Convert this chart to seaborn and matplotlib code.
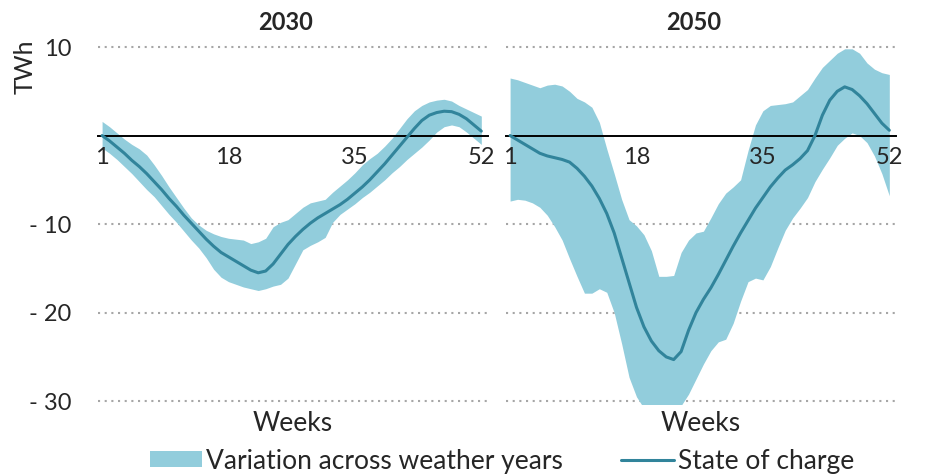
import numpy as np
import pandas as pd
import matplotlib
matplotlib.use('Agg')
import matplotlib.pyplot as plt
import seaborn as sns

weeks = list(range(1, 53))

# 2030
soc_2030 = [0, -0.6, -1.3, -2.0, -2.8, -3.5, -4.3, -5.2, -6.1, -7.1, -8.0, -9.0, -9.9,
            -10.8, -11.7, -12.5, -13.2, -13.7, -14.2, -14.7, -15.2, -15.5, -15.3, -14.5,
            -13.4, -12.3, -11.4, -10.6, -9.9, -9.3, -8.8, -8.3, -7.8, -7.2, -6.5, -5.8,
            -5.0, -4.1, -3.2, -2.2, -1.2, -0.2, 0.8, 1.7, 2.3, 2.6, 2.75, 2.7, 2.4, 1.9, 1.2, 0.5]
high_2030 = [1.6, 1.0, 0.3, -0.4, -1.0, -1.5, -2.2, -3.3, -4.5, -5.8, -7.0, -8.2, -9.3,
             -10.1, -10.7, -11.1, -11.4, -11.6, -11.7, -11.8, -12.2, -12.0, -11.6, -10.3,
             -9.8, -9.5, -8.8, -8.1, -7.6, -7.4, -7.2, -6.4, -5.7, -5.0, -4.2, -3.3,
             -2.6, -2.0, -1.2, -0.3, 0.8, 1.9, 2.8, 3.4, 3.8, 4.0, 4.1, 3.9, 3.4, 3.0, 2.6, 2.2]
low_2030 = [-1.4, -2.0, -2.7, -3.5, -4.3, -5.2, -6.1, -6.9, -7.9, -8.9, -9.8, -10.8, -11.8,
            -12.7, -13.8, -15.1, -16.0, -16.5, -16.8, -17.1, -17.3, -17.5, -17.3, -17.0,
            -16.8, -16.1, -14.5, -12.9, -12.4, -12.0, -11.5, -9.8, -8.9, -8.3, -7.7, -7.0,
            -6.4, -5.7, -5.0, -4.2, -3.5, -2.7, -2.0, -1.3, -0.5, 0.4, 1.0, 1.2, 1.0, 0.4, -0.3, -1.0]

# 2050
soc_2050 = [0, -0.5, -1.0, -1.5, -2.0, -2.3, -2.5, -2.7, -3.0, -3.7, -4.6, -5.7, -7.1,
            -8.8, -11.0, -13.8, -16.6, -19.4, -21.6, -23.2, -24.3, -25.0, -25.3, -24.4,
            -22.0, -20.0, -18.5, -17.2, -15.7, -14.1, -12.5, -11.0, -9.6, -8.2, -7.0, -5.8,
            -4.8, -3.9, -3.3, -2.6, -1.7, 0.0, 2.3, 4.0, 5.0, 5.5, 5.2, 4.5, 3.6, 2.5, 1.4, 0.6]
high_2050 = [6.5, 6.3, 6.0, 5.7, 5.4, 5.7, 5.8, 5.6, 5.0, 4.2, 3.8, 3.2, 1.5,
             -1.5, -4.3, -7.2, -9.5, -10.2, -11.2, -13.0, -15.9, -15.9, -15.8, -13.2,
             -11.8, -11.0, -10.8, -9.3, -7.7, -6.5, -5.8, -5.0, -1.7, 1.2, 2.8, 3.4,
             3.5, 3.6, 3.8, 4.5, 5.2, 6.5, 7.7, 8.5, 9.3, 9.8, 9.8, 9.3, 8.2, 7.5, 7.1, 6.9]
low_2050 = [-7.4, -7.2, -7.3, -7.6, -8.1, -9.0, -10.3, -11.8, -13.9, -15.9, -17.8, -17.8, -17.3,
            -17.7, -20.0, -23.5, -27.3, -29.5, -30.8, -31.0, -31.0, -31.0, -31.0, -30.5,
            -29.2, -27.5, -25.8, -24.3, -23.3, -23.0, -21.2, -18.7, -16.5, -16.1, -16.3, -14.8,
            -12.7, -10.7, -9.3, -8.2, -7.0, -5.2, -3.8, -2.5, -1.1, -0.3, 0.3, 0.0, -0.8, -2.3, -4.3, -6.8]

panels = {'2030': (soc_2030, low_2030, high_2030),
          '2050': (soc_2050, low_2050, high_2050)}

xticks = [1, 18, 35, 52]
yticks = [10, -10, -20, -30]
ytick_labels = ['10', '- 10', '- 20', '- 30']

band_color = '#92CDDC'
line_color = '#31849B'

sns.set_theme(style='white')
plt.rcParams['font.family'] = ['Lato', 'DejaVu Sans']

fig = plt.figure(figsize=(9.3, 4.74), dpi=100)
ax1 = fig.add_axes([98/930, 0.148, 390/930, 0.764])
ax2 = fig.add_axes([506/930, 0.148, 390/930, 0.764], sharey=ax1)

title_x = {'2030': 286, '2050': 694}

for ax, (year, (soc, low, high)) in zip([ax1, ax2], panels.items()):
    df = pd.DataFrame({'Week': weeks, 'SOC': soc, 'Low': low, 'High': high})
    ax.set_axisbelow(False)
    ax.fill_between(df['Week'], df['Low'], df['High'], color=band_color, lw=0,
                    label='Variation across weather years', zorder=1)
    sns.lineplot(data=df, x='Week', y='SOC', ax=ax, color=line_color, lw=2.2,
                 label='State of charge', legend=False, zorder=3)
    for y in yticks:
        ax.axhline(y, color='#A6A6A6', lw=1.5, ls=(0, (1, 2.2)), zorder=0)
    ax.set_xlim(0.45, 52.9)
    ax.set_ylim(-30.3, 10.6)
    for s in ['top', 'right', 'left']:
        ax.spines[s].set_visible(False)
    ax.spines['bottom'].set_position(('data', 0))
    ax.spines['bottom'].set_color('black')
    ax.spines['bottom'].set_linewidth(1.4)
    ax.spines['bottom'].set_zorder(2)
    ax.xaxis.set_zorder(2.5)
    ax.set_xticks(xticks)
    ax.set_xticklabels([str(t) for t in xticks], fontsize=17)
    ax.tick_params(axis='x', length=0, pad=8)
    ax.tick_params(axis='y', length=0)
    ax.set_xlabel('')
    ax.set_ylabel('')
    ax.text(0.5, (403.7 - 423) / (403.7 - 41.7), 'Weeks', transform=ax.transAxes,
            ha='center', va='center', fontsize=19)
    fig.text(title_x[year] / 930, 1 - 22 / 474, year, ha='center', va='center',
             fontsize=17, fontweight='bold')

ax1.set_yticks(yticks)
ax1.set_yticklabels(ytick_labels, fontsize=17)
ax1.tick_params(axis='y', pad=19)
plt.setp(ax2.get_yticklabels(), visible=False)

fig.text(25 / 930, 1 - 67 / 474, 'TWh', rotation=90, ha='center', va='center', fontsize=18)

handles, labels = ax1.get_legend_handles_labels()
fig.legend(handles, labels, loc='center', bbox_to_anchor=(502 / 930, 1 - 461 / 474),
           ncol=2, frameon=False, fontsize=19, handlelength=2.0, handleheight=0.55,
           handletextpad=0.15, columnspacing=2.2, borderaxespad=0)

fig.savefig('out.png', dpi=100)
